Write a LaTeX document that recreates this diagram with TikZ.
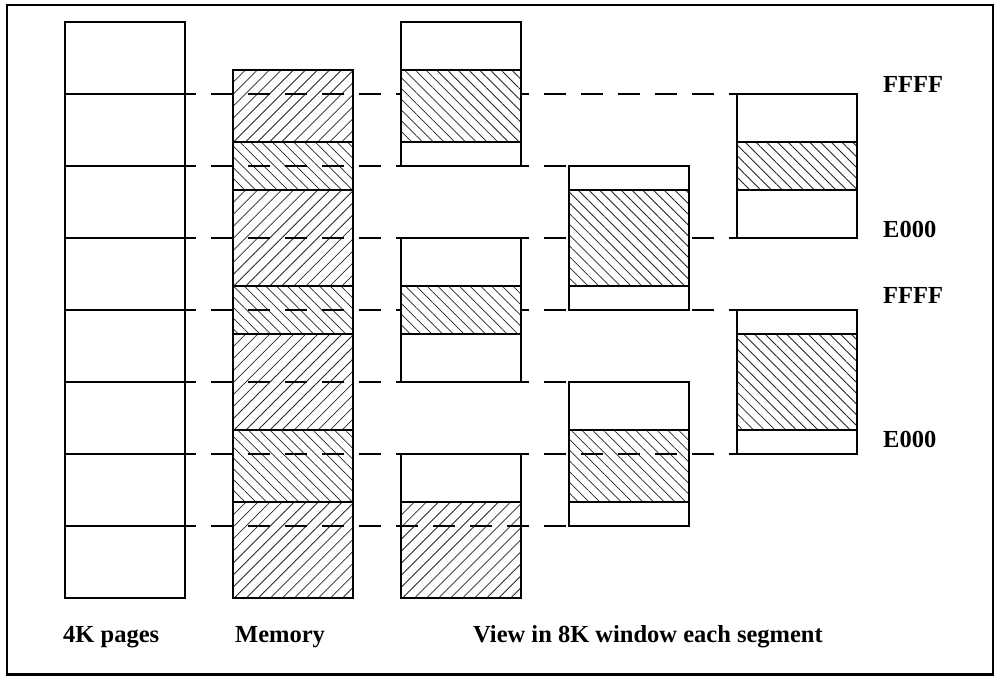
\documentclass[tikz,border=0pt]{standalone}
\usepackage{fontspec}
\setmainfont{Liberation Serif}
\usetikzlibrary{patterns.meta}
\tikzset{
  box/.style={draw=black, line width=2.4pt},
  ne/.style={pattern={Lines[angle=45,distance=8.5pt,line width=0.8pt]}, pattern color=black!85},
  nw/.style={pattern={Lines[angle=-45,distance=7.6pt,line width=0.8pt]}, pattern color=black!85},
  guide/.style={line width=2.4pt, dash pattern=on 22pt off 15pt},
  lbl/.style={font=\fontsize{24.5}{28}\selectfont\bfseries, anchor=base west, inner sep=0pt},
}
\begin{document}
\begin{tikzpicture}[x=1pt,y=-1pt]
\useasboundingbox (0,0) rectangle (997,676);
% outer frame
\draw[line width=2.6pt] (7,5) rectangle (993,674.5);
% 4K pages column
\draw[box] (65,22) rectangle (185,598);
\foreach \y in {94,166,238,310,382,454,526} \draw[box] (65,\y) -- (185,\y);
% memory column
\path[ne] (233,70) rectangle (353,142);
\path[nw] (233,142) rectangle (353,190);
\path[ne] (233,190) rectangle (353,286);
\path[nw] (233,286) rectangle (353,334);
\path[ne] (233,334) rectangle (353,430);
\path[nw] (233,430) rectangle (353,502);
\path[ne] (233,502) rectangle (353,598);
\draw[box] (233,70) rectangle (353,598);
\foreach \y in {142,190,286,334,430,502} \draw[box] (233,\y) -- (353,\y);
% windows crossed by visible dashes
\path[ne] (401,502) rectangle (521,598);
\draw[box] (401,454) rectangle (521,598);
\draw[box] (401,502) -- (521,502);
\path[nw] (569,430) rectangle (689,502);
\draw[box] (569,382) rectangle (689,526);
\draw[box] (569,430) -- (689,430);
\draw[box] (569,502) -- (689,502);
% dashed guide lines
\coordinate (s94) at (174,94);   \coordinate (e94) at (737,94);
\coordinate (s166) at (174,166); \coordinate (e166) at (569,166);
\coordinate (s238) at (174,238); \coordinate (e238) at (737,238);
\coordinate (s310) at (174,310); \coordinate (e310) at (737,310);
\coordinate (s382) at (174,382); \coordinate (e382) at (569,382);
\coordinate (s454) at (174,454); \coordinate (e454) at (737,454);
\coordinate (s526) at (174,526); \coordinate (e526) at (569,526);
\foreach \y in {94,166,238,310,382,454,526} \draw[guide] (s\y) -- (e\y);
% opaque windows
\path[fill=white] (401,22) rectangle (521,166);
\path[nw] (401,70) rectangle (521,142);
\draw[box] (401,22) rectangle (521,166);
\draw[box] (401,70) -- (521,70);
\draw[box] (401,142) -- (521,142);
\path[fill=white] (401,238) rectangle (521,382);
\path[nw] (401,286) rectangle (521,334);
\draw[box] (401,238) rectangle (521,382);
\draw[box] (401,286) -- (521,286);
\draw[box] (401,334) -- (521,334);
\path[fill=white] (569,166) rectangle (689,310);
\path[nw] (569,190) rectangle (689,286);
\draw[box] (569,166) rectangle (689,310);
\draw[box] (569,190) -- (689,190);
\draw[box] (569,286) -- (689,286);
\path[fill=white] (737,94) rectangle (857,238);
\path[nw] (737,142) rectangle (857,190);
\draw[box] (737,94) rectangle (857,238);
\draw[box] (737,142) -- (857,142);
\draw[box] (737,190) -- (857,190);
\path[fill=white] (737,310) rectangle (857,454);
\path[nw] (737,334) rectangle (857,430);
\draw[box] (737,310) rectangle (857,454);
\draw[box] (737,334) -- (857,334);
\draw[box] (737,430) -- (857,430);
% labels
\node[lbl] (f1) at (883,93) {FFFF};
\node[lbl] (e1) at (883,238) {E000};
\node[lbl] (f2) at (883,304) {FFFF};
\node[lbl] (e2) at (883,448) {E000};
\node[lbl] (pages) at (63,642) {4K pages};
\node[lbl] (mem) at (235,642) {Memory};
\node[lbl] (view) at (473,642) {View in 8K window each segment};
\end{tikzpicture}
\end{document}
